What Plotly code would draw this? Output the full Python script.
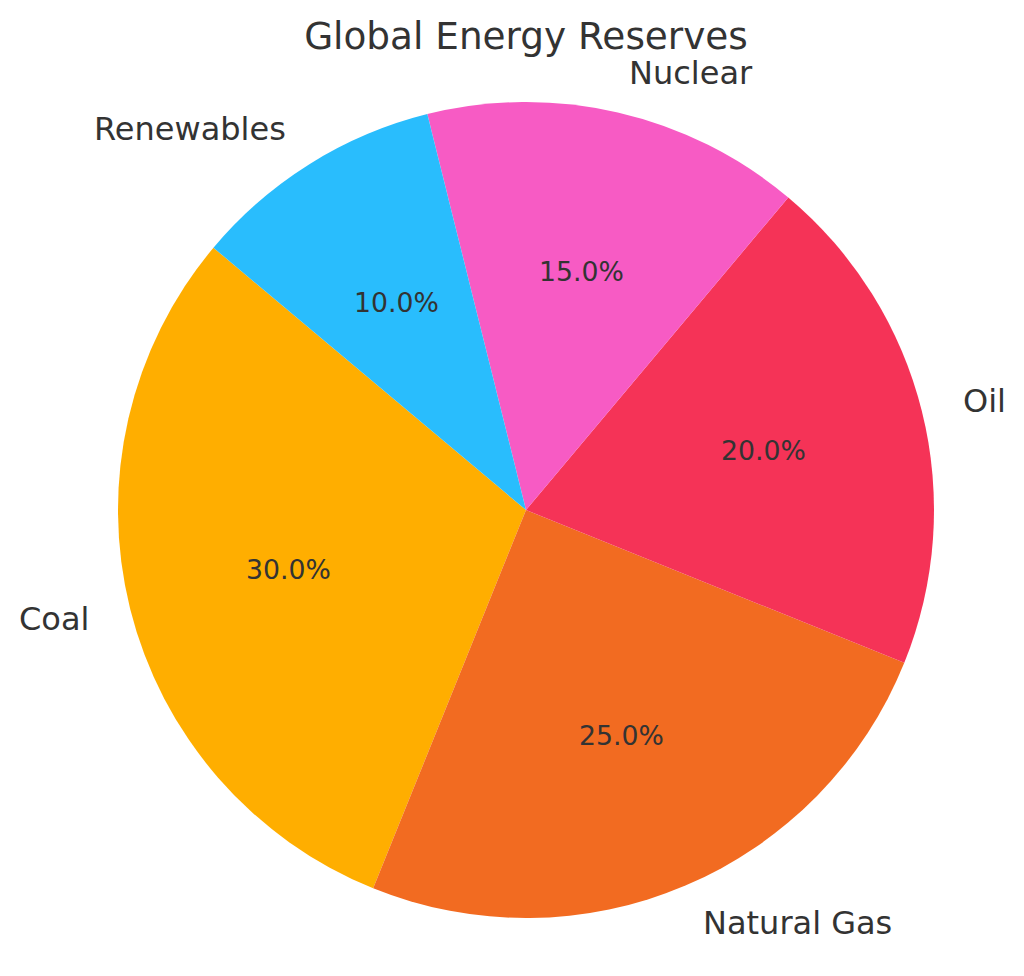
import math
import plotly.graph_objects as go

labels = ["Coal", "Natural Gas", "Oil", "Nuclear", "Renewables"]
values = [30, 25, 20, 15, 10]
colors = ["#FFAE00", "#F26B21", "#F53357", "#F75BC4", "#29BDFD"]

OFF = 8  # page body margin
W, H = 1024 - OFF, 976 - OFF
CX, CY_TOP, R = 526 - OFF, 510 - OFF, 408  # pie centre in px (figure coords) and radius
CY = H - CY_TOP
START = 140  # angle where first slice starts, counterclockwise
TEXT = "#333333"
FONT = "DejaVu Sans"

total = sum(values)

fig = go.Figure(go.Pie(
    labels=labels, values=values, sort=False, direction="counterclockwise",
    rotation=90 - (START + 360 * values[0] / total),
    marker=dict(colors=colors, line=dict(width=0)),
    textinfo="none", hoverinfo="skip", showlegend=False,
    domain=dict(x=[(CX - R) / W, (CX + R) / W], y=[(CY - R) / H, (CY + R) / H]),
))

ang = START
annotations = []
for lab, v in zip(labels, values):
    span = 360 * v / total
    mid = math.radians(ang + span / 2)
    ang += span
    c, s = math.cos(mid), math.sin(mid)
    annotations.append(dict(
        x=(CX + 1.1 * R * c) / W, y=(CY + 1.1 * R * s) / H, xref="paper", yref="paper",
        text=lab, showarrow=False, xanchor="left" if c > 0 else "right", yanchor="middle",
        font=dict(family=FONT, size=32, color=TEXT)))
    annotations.append(dict(
        x=(CX + 0.6 * R * c) / W, y=(CY + 0.6 * R * s) / H, xref="paper", yref="paper",
        text=f"{100 * v / total:.1f}%", showarrow=False, xanchor="center", yanchor="middle",
        font=dict(family=FONT, size=26.7, color=TEXT)))

fig.update_layout(
    width=W, height=H, margin=dict(l=0, r=0, t=0, b=0),
    paper_bgcolor="white", plot_bgcolor="white",
    title=dict(text="Global Energy Reserves", x=(526 - OFF) / W, xanchor="center",
               y=1 - (36 - OFF) / H, yanchor="middle", yref="paper",
               font=dict(family=FONT, size=37.4, color=TEXT)),
    annotations=annotations,
)

fig.write_html("out.html")
